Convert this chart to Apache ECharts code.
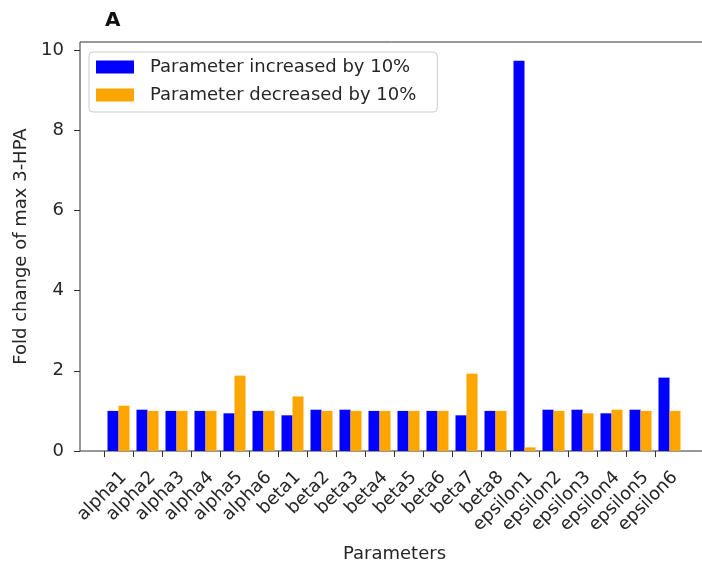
<!DOCTYPE html>
<html>
<head>
<meta charset="utf-8">
<script src="https://cdn.jsdelivr.net/npm/echarts@6/dist/echarts.min.js"></script>
<style>
  html, body { margin: 0; padding: 0; background: #fff; }
  #chart { width: 702px; height: 567px; }
</style>
</head>
<body>
<div id="chart"></div>
<script>
// Parameter names along the x axis
const categories = [
  'alpha1', 'alpha2', 'alpha3', 'alpha4', 'alpha5', 'alpha6',
  'beta1', 'beta2', 'beta3', 'beta4', 'beta5', 'beta6', 'beta7', 'beta8',
  'epsilon1', 'epsilon2', 'epsilon3', 'epsilon4', 'epsilon5', 'epsilon6'
];
// Fold change of max 3-HPA when each parameter is raised by 10%
const increased = [1.0, 1.03, 1.0, 1.0, 0.94, 1.0, 0.89, 1.03, 1.03, 1.0,
                   1.0, 1.0, 0.89, 1.0, 9.73, 1.03, 1.03, 0.94, 1.03, 1.83];
// ... and when it is lowered by 10%
const decreased = [1.13, 1.0, 1.0, 1.0, 1.88, 1.0, 1.36, 1.0, 1.0, 1.0,
                   1.0, 1.0, 1.93, 1.0, 0.09, 1.0, 0.94, 1.03, 1.0, 1.0];
const yTicks = [0, 2, 4, 6, 8, 10];

const FONT = 'DejaVu Sans';
const TEXT = '#262626';
const yMax = 10.2;

// The rotated tick labels sit lower and further right than ECharts' default
// anchor: an empty leading line pushes them down-right along the rotated
// frame, a trailing spacer pulls them down-left.
const LABEL_DROP = 41;
const LABEL_TAIL = 13;

const chart = echarts.init(document.getElementById('chart'), null, { renderer: 'canvas' });

chart.setOption({
  animation: false,
  backgroundColor: '#fff',
  textStyle: { fontFamily: FONT, color: TEXT },
  title: {
    text: 'A',
    left: 105, top: 11, padding: 0,
    textStyle: { fontFamily: FONT, fontSize: 20, fontWeight: 'bold', color: '#111' }
  },
  legend: {
    orient: 'vertical',
    left: 89, top: 52,
    padding: [6, 21, 8, 7],
    itemWidth: 38, itemHeight: 13, itemGap: 10,
    icon: 'rect',
    borderColor: '#cccccc', borderWidth: 1, borderRadius: 4,
    backgroundColor: '#fff',
    selectedMode: false,
    textStyle: { fontFamily: FONT, fontSize: 18, color: TEXT, padding: [0, 0, 0, 11] },
    data: ['Parameter increased by 10%', 'Parameter decreased by 10%']
  },
  grid: [
    // frame of the plotting area (right edge runs past the canvas)
    { left: 80, top: 42, right: -7, bottom: 116, show: true, outerBoundsMode: 'none',
      borderColor: '#333', borderWidth: 1, backgroundColor: 'transparent' },
    // band layout for the bars, one band per parameter plus a trailing spare
    { left: 104, top: 42, right: -11, bottom: 116, outerBoundsMode: 'none' }
  ],
  xAxis: [
    { gridIndex: 0, type: 'value', min: 0, max: 1,
      axisLine: { show: false }, axisTick: { show: false },
      axisLabel: { show: false }, splitLine: { show: false },
      name: 'Parameters', nameLocation: 'middle', nameGap: 94,
      nameTextStyle: { fontFamily: FONT, fontSize: 18, color: TEXT } },
    { gridIndex: 1, type: 'category', data: categories.concat(['']),
      axisLine: { show: false },
      axisTick: { show: true, length: 6, lineStyle: { color: '#333' },
                  interval: (i) => i < categories.length },
      axisLabel: {
        rotate: 45, interval: 0, margin: 0,
        formatter: (v) => v ? '{g| }\n{t|' + v + '}{s| }' : '',
        rich: {
          g: { fontSize: 1, lineHeight: LABEL_DROP, height: LABEL_DROP },
          t: { fontFamily: FONT, fontSize: 18, color: TEXT, lineHeight: 18 },
          s: { fontSize: 1, width: LABEL_TAIL }
        }
      },
      splitLine: { show: false } }
  ],
  yAxis: [
    { gridIndex: 0, type: 'value', min: 0, max: yMax,
      axisLine: { show: false },
      axisTick: { show: true, length: 6, lineStyle: { color: '#333' }, customValues: yTicks },
      axisLabel: { customValues: yTicks, fontFamily: FONT, fontSize: 18, color: TEXT, margin: 16 },
      splitLine: { show: false },
      name: 'Fold change of max 3-HPA', nameLocation: 'middle', nameGap: 48,
      nameTextStyle: { fontFamily: FONT, fontSize: 18, color: TEXT } },
    { gridIndex: 1, type: 'value', min: 0, max: yMax, show: false, splitLine: { show: false } }
  ],
  series: [
    { name: 'Parameter increased by 10%', type: 'bar', xAxisIndex: 1, yAxisIndex: 1,
      barWidth: 11, barGap: '0%', itemStyle: { color: '#0000ff' }, data: increased },
    { name: 'Parameter decreased by 10%', type: 'bar', xAxisIndex: 1, yAxisIndex: 1,
      barWidth: 11, barGap: '0%', itemStyle: { color: '#ffa500' }, data: decreased }
  ]
});
</script>
</body>
</html>
